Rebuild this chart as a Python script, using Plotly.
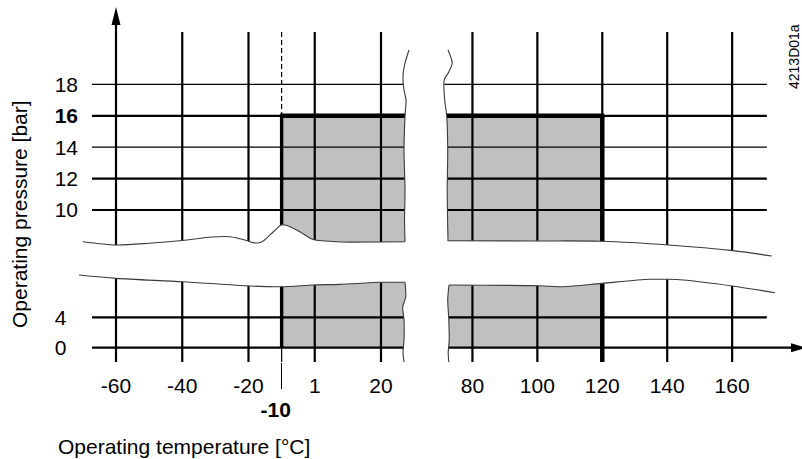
import plotly.graph_objects as go

# ---------------- data ----------------
temp_left = [-60, -40, -20, 0, 20]
temp_left_labels = ["-60", "-40", "-20", "1", "20"]
temp_right = [80, 100, 120, 140, 160]
temp_right_labels = ["80", "100", "120", "140", "160"]
temp_limit_low = -10
temp_limit_low_label = "<b>-10</b>\u00a0\u00a0"
temp_limit_high = 120

press_upper = [10, 12, 14, 16, 18]
press_upper_labels = ["10", "12", "14", "<b>16</b>", "18"]
press_lower = [0, 4]
press_lower_labels = ["0\u00a0\u00a0", "4\u00a0\u00a0"]
press_limit = 16

# axis-break outlines (deg C, bar)
brk_top_left_t = [-70, -60, -50, -40, -31, -25.6, -21.1, -18.6, -17.1, -15.9, -13.5, -11.4,
                  -10.2, -9.0, -7.5, -4.5, -1.4, 0.1, 4.6, 7.6, 19.7, 27.2]
brk_top_left_p = [7.98, 7.77, 7.88, 8.06, 8.28, 8.30, 8.09, 7.92, 7.90, 7.98, 8.41, 8.83,
                  9.04, 9.04, 8.94, 8.62, 8.20, 8.09, 8.01, 7.96, 7.96, 7.98]
brk_top_right_t = [72.5, 100.7, 119.9, 140.5, 160.2, 172.2]
brk_top_right_p = [8.04, 8.03, 8.01, 7.77, 7.41, 7.07]
brk_bot_left_t = [-71.2, -60, -39.9, -19.5, -10.2, -0.3, 7.6, 20.0, 27.2]
brk_bot_left_p = [9.57, 9.13, 8.68, 8.12, 8.03, 8.25, 8.34, 8.61, 8.61]
brk_bot_right_t = [72.8, 100.4, 107.9, 119.9, 134.6, 140.4, 144.9, 160.0, 173.2]
brk_bot_right_p = [8.25, 8.16, 8.03, 8.47, 9.0, 9.0, 8.91, 8.12, 7.24]

edge_left_top_t = [28.45, 27.25, 26.64, 26.94, 27.55, 27.25, 26.94, 27.25, 27.10, 27.25]
edge_left_top_p = [20.19, 19.36, 18.60, 17.64, 17.01, 15.99, 13.82, 11.27, 9.36, 7.98]
edge_left_bot_t = [27.25, 27.46, 26.55, 26.94, 26.94, 26.64, 26.94]
edge_left_bot_p = [8.61, 6.67, 5.36, 3.64, 1.01, -0.57, -1.88]
edge_right_top_t = [72.48, 73.77, 72.70, 71.31, 71.46, 72.08, 72.39, 72.23, 72.48]
edge_right_top_p = [20.19, 19.36, 18.79, 18.28, 17.01, 15.99, 13.82, 11.27, 8.01]
edge_right_bot_t = [72.79, 72.39, 72.70, 72.85, 72.54, 72.70]
edge_right_bot_p = [8.25, 6.28, 3.91, 1.01, -0.57, -1.88]

# ---------------- geometry of the broken axes ----------------
W, H = 802, 459
ML, MR, MT, MB = 79, 0, 0, 97
PX_X = 3.3125      # px per display x unit
PX_Y = 15.7        # px per display y unit
X0PX = 314.75      # px of display x = 0
Y10PX = 210.0      # px of display y = 10


def xl(t):  # left panel temperature -> display x
    return t


def xr(t):  # right panel temperature -> display x
    return 47.6 + 0.98 * (t - 80)


def yu(p):  # upper panel pressure -> display y
    return p


def yl(p):  # lower panel pressure -> display y
    return 1.229 + 0.484 * p


def xpx(px):
    return (px - X0PX) / PX_X


def ypx(py):
    return 10 + (Y10PX - py) / PX_Y


def paper_x(px):
    return (px - ML) / (W - ML - MR)


def paper_y(py):
    return (H - MB - py) / (H - MT - MB)


X_RANGE = [xpx(ML), xpx(W - MR)]
Y_RANGE = [ypx(H - MB), ypx(MT)]

FONT = "Liberation Sans, Arial, sans-serif"
GREY = "#c0c0c0"
EDGE = "#3a3a3a"

fig = go.Figure()


def add(xs, ys, color="black", width=2.0, dash=None, fill=None, fillcolor=None, shape="linear"):
    fig.add_trace(go.Scatter(
        x=xs, y=ys, mode="lines",
        line=dict(color=color, width=width, dash=dash, shape=shape, smoothing=0.8),
        fill=fill, fillcolor=fillcolor, hoverinfo="skip", showlegend=False))


x_top = ypx(32)
y_bot = ypx(H - MB + 2)
x_start = xpx(92)
x_end = xr(170.7)

# grey operating area
add([xl(temp_limit_low), xl(29), xl(29), xl(temp_limit_low)],
    [yu(press_limit), yu(press_limit), yu(7), yu(7)], width=0, fill="toself", fillcolor=GREY)
add([xl(temp_limit_low), xl(29), xl(29), xl(temp_limit_low)],
    [yl(0), yl(0), yl(9.5), yl(9.5)], width=0, fill="toself", fillcolor=GREY)
add([xr(70), xr(temp_limit_high), xr(temp_limit_high), xr(70)],
    [yu(press_limit), yu(press_limit), yu(7), yu(7)], width=0, fill="toself", fillcolor=GREY)
add([xr(70), xr(temp_limit_high), xr(temp_limit_high), xr(70)],
    [yl(0), yl(0), yl(9.5), yl(9.5)], width=0, fill="toself", fillcolor=GREY)

# horizontal grid lines
thin_rows = {14, 18}
for p in press_upper:
    add([x_start, x_end], [yu(p), yu(p)], width=1.2 if p in thin_rows else 2.2)
add([x_start, x_end], [yl(press_lower[1]), yl(press_lower[1])], width=2.2)
add([x_start, xpx(800)], [yl(press_lower[0]), yl(press_lower[0])], width=2.2)

# vertical grid lines
for t in temp_left:
    top = ypx(22) if t == temp_left[0] else x_top
    add([xl(t), xl(t)], [top, y_bot], width=2.2)
for t in temp_right:
    add([xr(t), xr(t)], [x_top, y_bot], width=2.2)

# -10 marker line
add([xl(temp_limit_low)] * 2, [x_top, yu(press_limit)], width=1.2, dash="5px,3px")
add([xl(temp_limit_low)] * 2, [yl(0), y_bot], width=1.2)
add([xl(temp_limit_low)] * 2, [yl(0), yu(press_limit)], width=3.4)
add([xr(temp_limit_high)] * 2, [y_bot, yu(press_limit)], width=4.5)
add([xl(temp_limit_low) - 0.5, xl(29)], [yu(press_limit)] * 2, width=4.5)
add([xr(70), xr(temp_limit_high) + 0.6], [yu(press_limit)] * 2, width=4.5)

# white band of the pressure-axis break
band_x = ([xl(t) for t in brk_top_left_t] + [xr(t) for t in brk_top_right_t]
          + [xr(t) for t in brk_bot_right_t[::-1]] + [xl(t) for t in brk_bot_left_t[::-1]])
band_y = ([yu(p) for p in brk_top_left_p] + [yu(p) for p in brk_top_right_p]
          + [yl(p) for p in brk_bot_right_p[::-1]] + [yl(p) for p in brk_bot_left_p[::-1]])
add(band_x, band_y, width=0, fill="toself", fillcolor="white", shape="spline")

# white gap of the temperature-axis break
gap_x = ([xl(t) for t in edge_left_top_t] + [xl(t) for t in edge_left_bot_t]
         + [xr(t) for t in edge_right_bot_t[::-1]] + [xr(t) for t in edge_right_top_t[::-1]])
gap_y = ([yu(p) for p in edge_left_top_p] + [yl(p) for p in edge_left_bot_p]
         + [yl(p) for p in edge_right_bot_p[::-1]] + [yu(p) for p in edge_right_top_p[::-1]])
add(gap_x, gap_y, width=0, fill="toself", fillcolor="white")

# break outlines
add([xl(t) for t in brk_top_left_t], [yu(p) for p in brk_top_left_p], color=EDGE, width=1.1, shape="spline")
add([xr(t) for t in brk_top_right_t], [yu(p) for p in brk_top_right_p], color=EDGE, width=1.1, shape="spline")
add([xl(t) for t in brk_bot_left_t], [yl(p) for p in brk_bot_left_p], color=EDGE, width=1.1, shape="spline")
add([xr(t) for t in brk_bot_right_t], [yl(p) for p in brk_bot_right_p], color=EDGE, width=1.1, shape="spline")
add([xl(t) for t in edge_left_top_t], [yu(p) for p in edge_left_top_p], color=EDGE, width=1.1, shape="spline")
add([xl(t) for t in edge_left_bot_t], [yl(p) for p in edge_left_bot_p], color=EDGE, width=1.1, shape="spline")
add([xr(t) for t in edge_right_top_t], [yu(p) for p in edge_right_top_p], color=EDGE, width=1.1, shape="spline")
add([xr(t) for t in edge_right_bot_t], [yl(p) for p in edge_right_bot_p], color=EDGE, width=1.1, shape="spline")

# axis arrow heads
ax0 = xl(temp_left[0])
add([ax0, ax0 - 4.5 / PX_X, ax0 + 4.5 / PX_X, ax0], [ypx(7), ypx(25), ypx(25), ypx(7)],
    width=0, fill="toself", fillcolor="black")
y0 = yl(press_lower[0])
add([xpx(806), xpx(791), xpx(791), xpx(806)], [y0, y0 + 4.5 / PX_Y, y0 - 4.5 / PX_Y, y0],
    width=0, fill="toself", fillcolor="black")

# carrier for the -10 tick axis
fig.add_trace(go.Scatter(x=[], y=[], xaxis="x2", showlegend=False, hoverinfo="skip"))

tickfont = dict(family=FONT, size=21, color="black")
fig.update_layout(
    width=W, height=H,
    margin=dict(l=ML, r=MR, t=MT, b=MB, pad=0),
    paper_bgcolor="white", plot_bgcolor="white",
    showlegend=False,
    xaxis=dict(range=X_RANGE, showgrid=False, zeroline=False, showline=False,
               tickmode="array",
               tickvals=[xl(t) for t in temp_left] + [xr(t) for t in temp_right],
               ticktext=temp_left_labels + temp_right_labels,
               ticks="", tickangle=0, tickfont=tickfont, ticklabelstandoff=9,
               fixedrange=True),
    xaxis2=dict(range=X_RANGE, overlaying="x", anchor="y", side="bottom",
                showgrid=False, zeroline=False, showline=False,
                tickmode="array", tickvals=[xl(temp_limit_low)], ticktext=[temp_limit_low_label],
                ticks="outside", ticklen=26, tickwidth=1.2, tickcolor="black",
                tickangle=0, tickfont=tickfont, ticklabelstandoff=3, fixedrange=True),
    yaxis=dict(range=Y_RANGE, showgrid=False, zeroline=False, showline=False,
               tickmode="array",
               tickvals=[yu(p) for p in press_upper] + [yl(p) for p in press_lower],
               ticktext=press_upper_labels + press_lower_labels,
               ticks="", tickfont=tickfont, ticklabelstandoff=0, fixedrange=True),
    annotations=[
        dict(text="Operating pressure [bar]", textangle=-90, xref="paper", yref="paper",
             x=paper_x(20), y=paper_y(214), xanchor="center", yanchor="middle",
             showarrow=False, font=dict(family=FONT, size=21, color="black")),
        dict(text="Operating temperature [°C]", xref="paper", yref="paper",
             x=paper_x(56), y=paper_y(446), xanchor="left", yanchor="middle",
             showarrow=False, font=dict(family=FONT, size=21, color="black")),
        dict(text="4213D01a", textangle=-90, xref="paper", yref="paper",
             x=paper_x(794), y=paper_y(57), xanchor="center", yanchor="middle",
             showarrow=False, font=dict(family=FONT, size=14, color="black")),
    ],
)

fig.write_html("out.html", config={"displayModeBar": False},
               post_script="document.body.style.margin='0';document.body.style.overflow='hidden';")
